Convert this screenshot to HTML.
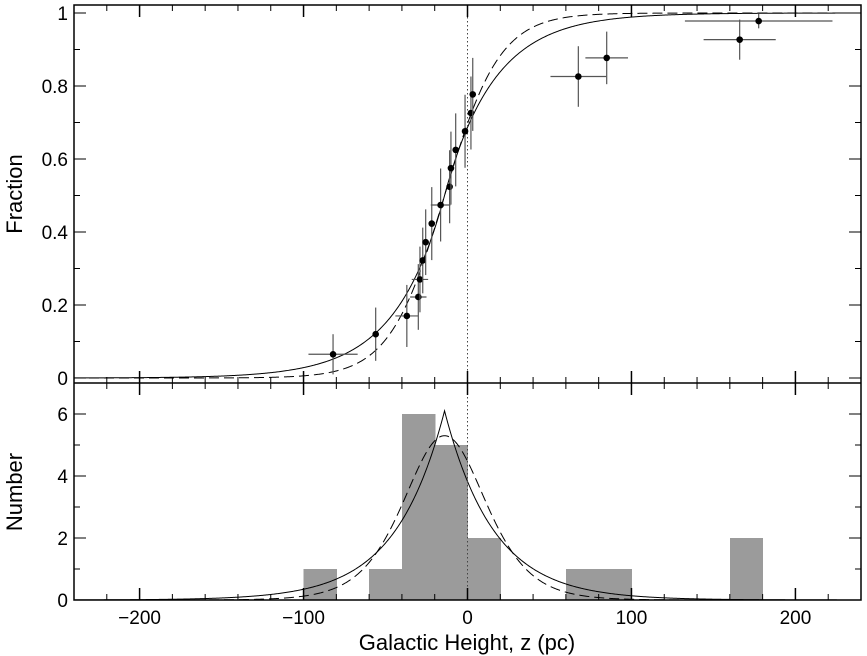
<!DOCTYPE html>
<html><head><meta charset="utf-8"><style>
html,body{margin:0;padding:0;background:#fff;}
svg{display:block;font-family:"Liberation Sans",sans-serif;}
</style></head><body>
<svg id="chart" width="867" height="656" viewBox="0 0 867 656" xmlns="http://www.w3.org/2000/svg"></svg>
<script>
// ---- data ----
const pointZ    = [-82,-56,-37,-30,-29,-27.3,-25.5,-21.8,-16.4,-10.9,-10.1,-7.2,-1.5,2.1,3.2,67.6,84.9,166,177.6];
const pointFrac = [0.065,0.12,0.17,0.222,0.27,0.322,0.372,0.423,0.474,0.524,0.575,0.625,0.676,0.726,0.777,0.826,0.877,0.927,0.978];
const pointXLo  = [15,0,7,5,5,0,0,0,6,0,0,0,0,0,0,17,13,22,45];
const pointXHi  = [15,0,7,5,5,0,0,0,6,0,0,0,0,0,0,17,13,22,45];
const pointYErr = [0.055,0.073,0.085,0.09,0.09,0.09,0.09,0.1,0.1,0.1,0.1,0.1,0.1,0.1,0.1,0.083,0.072,0.055,0.02];
const binStart  = [-100,-60,-40,-20,0,60,80,160];
const binCount  = [1,1,6,5,2,1,1,2];
const binWidth  = 20;
const fitCenter = [-14,-14];     // solid (exponential), dashed (sech^2)
const fitScale  = [30,33.6];
const fitPeak   = [6.1,5.3];
const xTicks    = [-200,-100,0,100,200];
const xTickLabels = ["\u2212200","\u2212100","0","100","200"];
const fTicks    = [0,0.2,0.4,0.6,0.8,1];
const fTickLabels = ["0","0.2","0.4","0.6","0.8","1"];
const nTicks    = [0,2,4,6];
const nTickLabels = ["0","2","4","6"];

// ---- layout ----
const L=74,R=861,T=5,M=383,B=600;
const xs=z=>L+(z+240)/480*(R-L);
const yf=f=>378-f*365;
const yn=n=>B-n*31;
const svg=document.getElementById('chart');
const NS='http://www.w3.org/2000/svg';
function mk(tag,attrs,parent){const e=document.createElementNS(NS,tag);for(const k in attrs)e.setAttribute(k,attrs[k]);(parent||svg).appendChild(e);return e;}

// histogram
const hist=mk('g',{'shape-rendering':'crispEdges'});


binStart.forEach((s,i)=>{
  const r=mk('rect',{x:xs(s),y:yn(binCount[i]),width:xs(s+binWidth)-xs(s)+0.6,height:yn(0)-yn(binCount[i]),fill:'#9b9b9b'},hist);
  
  
});

// models
function pdf(k,z){const u=(z-fitCenter[k])/fitScale[k];return k==0?fitPeak[k]*Math.exp(-Math.abs(u)):fitPeak[k]/Math.pow(Math.cosh(u),2);}
function cdf(k,z){const u=(z-fitCenter[k])/fitScale[k];return k==0?(u<0?0.5*Math.exp(u):1-0.5*Math.exp(-u)):0.5*(1+Math.tanh(u));}
for(let k=0;k<2;k++){
  let p1='',p2='';
  for(let z=-240;z<=240;z+=0.5){
    p1+=(p1?'L':'M')+xs(z).toFixed(2)+','+yf(cdf(k,z)).toFixed(2);
    p2+=(p2?'L':'M')+xs(z).toFixed(2)+','+yn(pdf(k,z)).toFixed(2);
  }
  const dash=k==1?'10,5':'none';
  const a=mk('path',{d:p1,fill:'none',stroke:'#000','stroke-width':1,'stroke-dasharray':dash});
  
  
  const b=mk('path',{d:p2,fill:'none',stroke:'#000','stroke-width':1,'stroke-dasharray':dash});
  
  
}

// zero line
const zl=mk('line',{x1:xs(0),x2:xs(0),y1:T,y2:B,stroke:'#444','stroke-width':1,'stroke-dasharray':'1.5,2.5'});



// points
const pts=mk('g',{});


pointZ.forEach((z,i)=>{
  const f=pointFrac[i];
  mk('line',{x1:xs(z),x2:xs(z),y1:yf(Math.min(1.02,f+pointYErr[i])),y2:yf(f-pointYErr[i]),stroke:'#555','stroke-width':1.2},pts);
  if(pointXLo[i]+pointXHi[i]>0)mk('line',{x1:xs(z-pointXLo[i]),x2:xs(z+pointXHi[i]),y1:yf(f),y2:yf(f),stroke:'#555','stroke-width':1.2},pts);
  const c=mk('circle',{cx:xs(z),cy:yf(f),r:3.3,fill:'#000'},pts);
  
  
});

// frames
const fr=mk('g',{fill:'none',stroke:'#000','stroke-width':1.5});


mk('rect',{x:L,y:T,width:R-L,height:B-T},fr);
mk('line',{x1:L,x2:R,y1:M,y2:M},fr);

// x ticks
const tk=mk('g',{stroke:'#000','stroke-width':1});
for(let z=-240;z<=240;z+=20){
  const maj=z%100==0,len=maj?12:6,x=xs(z);
  [[T,1],[M,-1],[M,1],[B,-1]].forEach(([y,d])=>mk('line',{x1:x,x2:x,y1:y,y2:y+d*len,'stroke-width':maj?1.5:1},tk));
}
for(let f=0;f<=1.001;f+=0.1){const maj=Math.round(f*10)%2==0,len=maj?12:6;
  mk('line',{x1:L,x2:L+len,y1:yf(f),y2:yf(f)},tk);mk('line',{x1:R,x2:R-len,y1:yf(f),y2:yf(f)},tk);}
for(let n=0;n<=6;n++){const maj=n%2==0,len=maj?12:6;
  mk('line',{x1:L,x2:L+len,y1:yn(n),y2:yn(n)},tk);mk('line',{x1:R,x2:R-len,y1:yn(n),y2:yn(n)},tk);}

function txt(s,attrs,name){const t=mk('text',attrs);t.textContent=s;return t;}
xTicks.forEach((z,i)=>txt(xTickLabels[i],{x:xs(z),y:624,'text-anchor':'middle','font-size':19},'x-tick-label'));
fTicks.forEach((f,i)=>txt(fTickLabels[i],{x:68,y:yf(f)+7,'text-anchor':'end','font-size':19},'fraction-tick-label'));
nTicks.forEach((n,i)=>txt(nTickLabels[i],{x:68,y:yn(n)+7,'text-anchor':'end','font-size':19},'number-tick-label'));
txt('Galactic Height, z (pc)',{x:467,y:650,'text-anchor':'middle','font-size':22},'x-axis-title');
txt('Fraction',{x:0,y:0,'text-anchor':'middle','font-size':22,transform:'translate(22,194) rotate(-90)'},'fraction-axis-title');
txt('Number',{x:0,y:0,'text-anchor':'middle','font-size':22,transform:'translate(22,492) rotate(-90)'},'number-axis-title');
</script>
</body></html>
